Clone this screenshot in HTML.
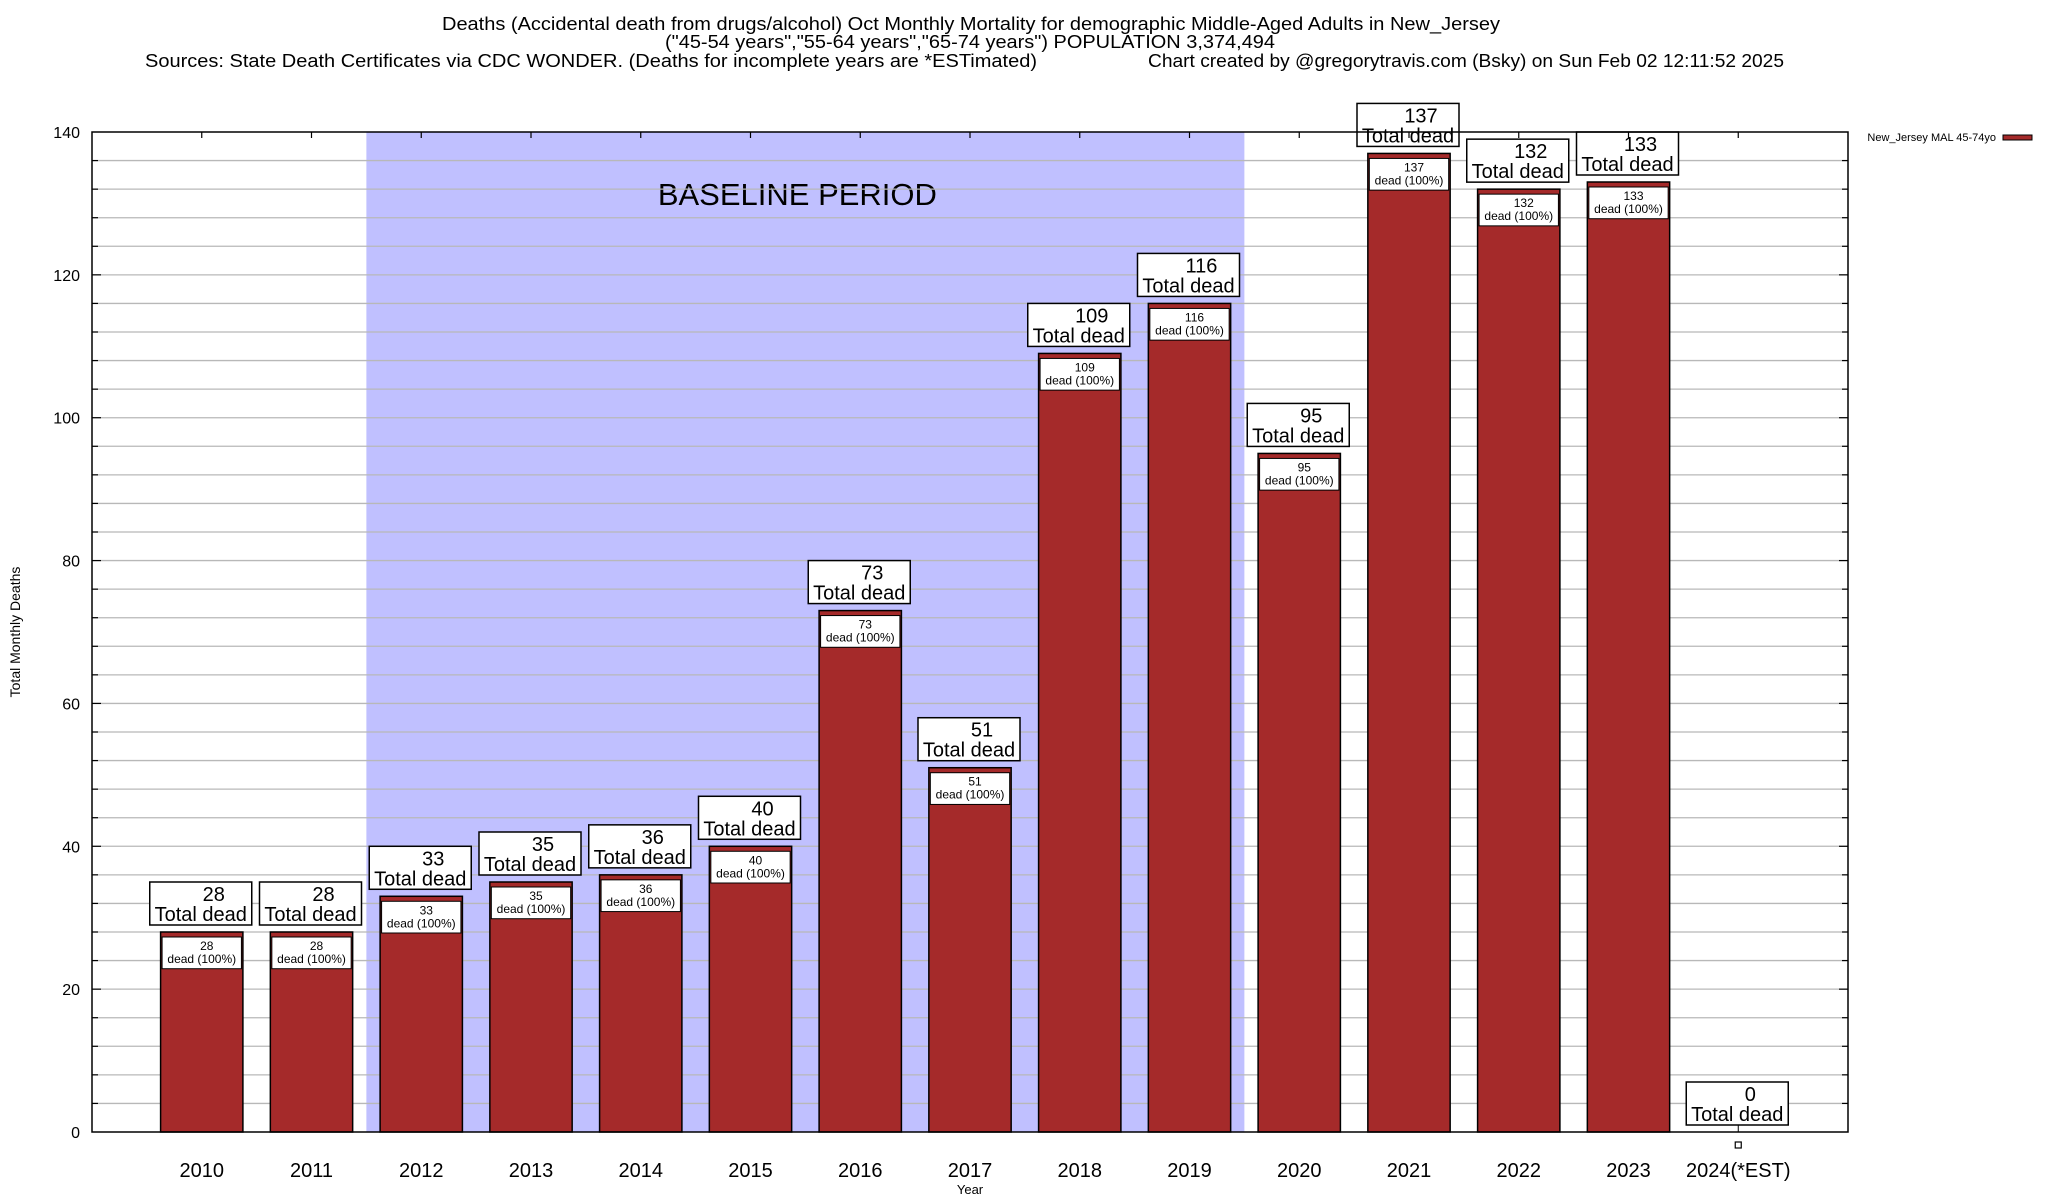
<!DOCTYPE html>
<html><head><meta charset="utf-8"><style>
html,body{margin:0;padding:0;background:#fff}
svg{display:block;font-family:"Liberation Sans",Arial,sans-serif}
</style></head><body>
<svg id="chart" width="2048" height="1200" viewBox="0 0 2048 1200" xmlns="http://www.w3.org/2000/svg">
<g font-size="18" fill="#000">
<text x="442" y="30" textLength="1058" lengthAdjust="spacingAndGlyphs">Deaths (Accidental death from drugs/alcohol) Oct Monthly Mortality for demographic Middle-Aged Adults in New_Jersey</text>
<text x="665" y="48" textLength="610" lengthAdjust="spacingAndGlyphs">("45-54 years","55-64 years","65-74 years") POPULATION 3,374,494</text>
<text x="145" y="67" textLength="892" lengthAdjust="spacingAndGlyphs">Sources: State Death Certificates via CDC WONDER. (Deaths for incomplete years are *ESTimated)</text>
<text x="1148" y="67" textLength="636" lengthAdjust="spacingAndGlyphs">Chart created by @gregorytravis.com (Bsky) on Sun Feb 02 12:11:52 2025</text>
</g>
<g id="plot"></g>
<g>
<text x="1996" y="141" font-size="11" text-anchor="end">New_Jersey MAL 45-74yo</text>
<rect x="2003" y="135" width="29" height="5" fill="#a52a2a" stroke="#000" stroke-width="1"/>
</g>
<text x="970" y="1194" font-size="13" text-anchor="middle">Year</text>
<text transform="translate(20,632) rotate(-90)" font-size="14" text-anchor="middle">Total Monthly Deaths</text>
</svg>
<script>
const categories = ["2010","2011","2012","2013","2014","2015","2016","2017","2018","2019","2020","2021","2022","2023","2024(*EST)"];
const values = [28,28,33,35,36,40,73,51,109,116,95,137,132,133,0];
const yTicks = [0,20,40,60,80,100,120,140];
const baselineStart = 2, baselineEnd = 9;

const NS = "http://www.w3.org/2000/svg";
const L = 92, R = 1848, T = 132, B = 1132, YMAX = 140;
const slot = (R - L) / (categories.length + 1);
const xC = i => L + (i + 1) * slot;
const y = v => B - v / YMAX * (B - T);
const plot = document.getElementById("plot");
function mk(tag, attrs, parent) {
  const e = document.createElementNS(NS, tag);
  for (const k in attrs) e.setAttribute(k, attrs[k]);
  (parent || plot).appendChild(e);
  return e;
}
// baseline shading
const sh = mk("rect", {x: xC(baselineStart) - slot/2, y: T, width: (baselineEnd - baselineStart + 1) * slot, height: B - T, fill: "#c0c0ff"});


const bt = mk("text", {x: xC(5.5) - 8, y: 205, "font-size": 31, "text-anchor": "middle"});
bt.textContent = "BASELINE PERIOD";


// gridlines
for (let v = 4; v < YMAX; v += 4) {
  const g = mk("line", {x1: L, x2: R, y1: y(v), y2: y(v), stroke: "#b8b8b8", "stroke-width": 1.3});
  
  
  const major = v % 20 === 0;
  const tl = major ? 9 : 6;
  mk("line", {x1: L, x2: L + tl, y1: y(v), y2: y(v), stroke: "#000", "stroke-width": 1.2});
  mk("line", {x1: R - tl, x2: R, y1: y(v), y2: y(v), stroke: "#000", "stroke-width": 1.2});
}
yTicks.forEach(v => {
  const t = mk("text", {x: L - 12, y: y(v) + 6, "font-size": 16, "text-anchor": "end"});
  t.textContent = v;
  
  
});
// bars
values.forEach((v, i) => {
  const cx = xC(i), bw = slot * 0.75;
  if (v > 0) {
    const b = mk("rect", {x: cx - bw/2, y: y(v), width: bw, height: B - y(v), fill: "#a52a2a", stroke: "#000", "stroke-width": 1.5});
    
    
    const ib = mk("rect", {x: cx - bw/2 + 1.5, y: y(v) + 5, width: bw - 3, height: y(v - 5) - y(v) - 4, fill: "#fff", stroke: "#000", "stroke-width": 1});
    
    
    const t1 = mk("text", {x: cx + 5, y: y(v) + 18, "font-size": 12, "text-anchor": "middle"});
    t1.textContent = v;
    
    
    const t2 = mk("text", {x: cx, y: y(v) + 31, "font-size": 12, "text-anchor": "middle"});
    t2.textContent = "dead (100%)";
    
    
  } else {
    mk("line", {x1: cx, x2: cx, y1: y(v) - 7, y2: B, stroke: "#000", "stroke-width": 1});
    const m = mk("rect", {x: cx - 3, y: B + 10, width: 6, height: 6, fill: "#fff", stroke: "#000", "stroke-width": 1.2});
    
    
  }
  const by = y(v) - 7;
  const ob = mk("rect", {x: cx - 52, y: by - 43, width: 102, height: 43, fill: "#fff", stroke: "#000", "stroke-width": 1.5});
  
  
  const o1 = mk("text", {x: cx + 12, y: by - 24, "font-size": 20, "text-anchor": "middle"});
  o1.textContent = v;
  
  
  const o2 = mk("text", {x: cx - 1, y: by - 4, "font-size": 20, "text-anchor": "middle"});
  o2.textContent = "Total dead";
  
  
  // top tick
  mk("line", {x1: cx, x2: cx, y1: T, y2: T + 6, stroke: "#000", "stroke-width": 1.2});
  const xl = mk("text", {x: cx, y: 1177, "font-size": 20, "text-anchor": "middle"});
  xl.textContent = categories[i];
  
  
});
// frame
const fr = mk("rect", {x: L, y: T, width: R - L, height: B - T, fill: "none", stroke: "#000", "stroke-width": 1.5});


</script>
</body></html>
